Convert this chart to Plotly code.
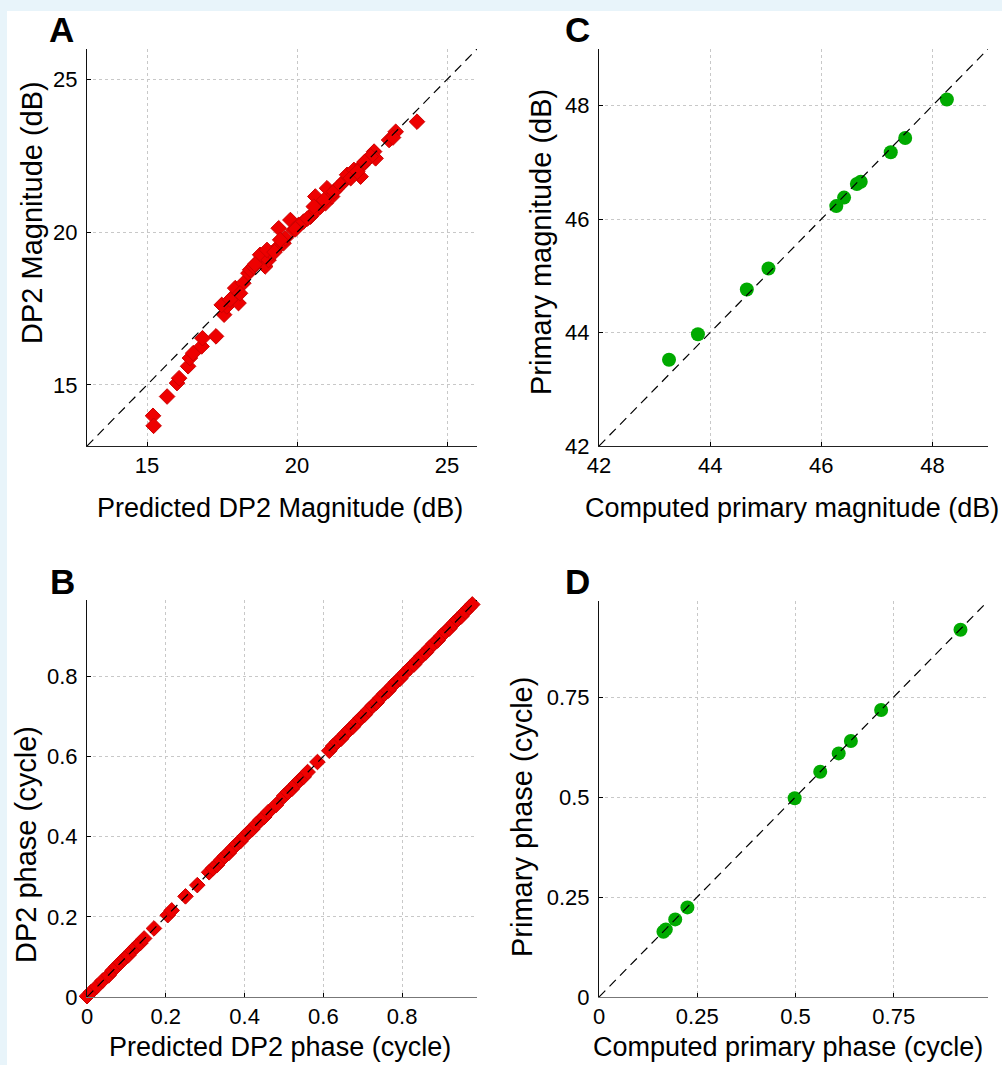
import plotly.graph_objects as go

# ---------------- data ----------------
# Panel A: DP2 magnitude (dB)
a_pred = [15.20, 15.22, 15.67, 16.00, 16.07, 16.37, 16.43, 16.54, 16.82, 16.85,
          17.30, 17.57, 17.66, 17.49, 18.05, 17.88, 17.94, 18.21, 18.38, 18.44,
          18.66, 18.77, 18.94, 19.05, 19.16, 19.39, 19.33, 19.55, 19.61, 19.78,
          19.89, 20.06, 20.22, 20.45, 20.61, 20.61, 20.78, 20.95, 21.00, 21.17,
          21.34, 21.56, 21.67, 21.90, 22.12, 22.18, 22.34, 22.57, 22.62, 23.07,
          23.29, 23.20, 24.00, 19.00, 18.55, 19.44, 20.56, 21.23, 21.79, 22.01,
          22.46, 18.10, 17.77, 18.60, 19.25, 19.95, 20.35, 20.90, 21.45, 22.25]
a_meas = [13.99, 13.66, 14.62, 15.06, 15.22, 15.61, 15.88, 16.04, 16.26, 16.53,
          16.59, 17.30, 17.57, 17.62, 17.68, 17.90, 18.17, 18.33, 18.66, 18.77,
          18.99, 19.26, 18.88, 19.09, 19.31, 20.13, 19.48, 19.64, 19.80, 20.40,
          20.08, 20.24, 20.35, 20.51, 21.17, 20.68, 20.84, 20.95, 21.44, 21.17,
          21.44, 21.66, 21.88, 22.04, 21.82, 22.20, 22.37, 22.64, 22.42, 23.02,
          23.29, 23.10, 23.62, 19.42, 18.88, 19.75, 20.84, 21.33, 21.77, 21.98,
          22.48, 18.00, 17.79, 18.95, 19.35, 20.10, 20.45, 21.05, 21.55, 22.30]

# Panel B: DP2 phase (cycle)
b_pred = [0.000, 0.010, 0.025, 0.040, 0.055, 0.065, 0.075, 0.085, 0.095, 0.105,
          0.115, 0.125, 0.135, 0.145, 0.170, 0.205, 0.215, 0.250, 0.280, 0.310,
          0.320, 0.330, 0.340, 0.350, 0.360, 0.370, 0.380, 0.390, 0.400, 0.410,
          0.420, 0.430, 0.440, 0.450, 0.460, 0.480, 0.500, 0.510, 0.520, 0.530,
          0.540, 0.550, 0.560, 0.585, 0.615, 0.625, 0.635, 0.645, 0.655, 0.665,
          0.675, 0.685, 0.695, 0.705, 0.715, 0.725, 0.735, 0.745, 0.755, 0.765,
          0.775, 0.785, 0.795, 0.805, 0.820, 0.830, 0.840, 0.850, 0.860, 0.870,
          0.880, 0.890, 0.900, 0.910, 0.920, 0.930, 0.940, 0.950, 0.960, 0.970,
          0.978]
b_meas = [0.002, 0.012, 0.026, 0.041, 0.054, 0.066, 0.076, 0.086, 0.096, 0.104,
          0.116, 0.126, 0.134, 0.146, 0.171, 0.204, 0.216, 0.251, 0.279, 0.311,
          0.321, 0.329, 0.341, 0.351, 0.359, 0.371, 0.381, 0.389, 0.401, 0.411,
          0.419, 0.431, 0.441, 0.449, 0.461, 0.479, 0.501, 0.511, 0.519, 0.531,
          0.541, 0.549, 0.561, 0.586, 0.614, 0.626, 0.636, 0.644, 0.656, 0.666,
          0.674, 0.686, 0.696, 0.704, 0.716, 0.726, 0.734, 0.746, 0.756, 0.764,
          0.776, 0.786, 0.794, 0.806, 0.821, 0.829, 0.841, 0.851, 0.859, 0.871,
          0.881, 0.889, 0.901, 0.911, 0.919, 0.931, 0.941, 0.949, 0.961, 0.971,
          0.979]

# Panel C: primary magnitude (dB)
c_comp = [43.26, 43.78, 44.66, 45.05, 46.27, 46.41, 46.64, 46.71, 47.25, 47.51, 48.26]
c_meas = [43.52, 43.97, 44.76, 45.13, 46.23, 46.38, 46.62, 46.66, 47.18, 47.43, 48.11]

# Panel D: primary phase (cycle)
d_comp = [0.164, 0.170, 0.194, 0.225, 0.498, 0.563, 0.610, 0.641, 0.718, 0.920]
d_meas = [0.163, 0.169, 0.194, 0.224, 0.497, 0.563, 0.609, 0.640, 0.7175, 0.918]

# axis limits and ticks
a_lim = [13, 26]
a_ticks = [15, 20, 25]
b_lim = [0, 0.99]
b_ticks = [0, 0.2, 0.4, 0.6, 0.8]
b_tick_text = ["0", "0.2", "0.4", "0.6", "0.8"]
c_lim = [42, 49]
c_ticks = [42, 44, 46, 48]
d_lim = [0, 0.99]
d_ticks = [0, 0.25, 0.5, 0.75]
d_tick_text = ["0", "0.25", "0.5", "0.75"]

# ---------------- figure ----------------
W, H = 1002, 1065
FONT = "Liberation Sans, Arial, sans-serif"


def fx(px):
    return px / W


def fy(py):
    return 1 - py / H


fig = go.Figure()

RED = "rgb(238,0,0)"
RED_EDGE = "rgb(204,0,0)"
GREEN = "#00aa00"
DASH = "9px,6px"

panels = [
    ("x", "y", a_pred, a_meas, a_lim, "diamond"),
    ("x2", "y2", c_comp, c_meas, c_lim, "circle"),
    ("x3", "y3", b_pred, b_meas, b_lim, "diamond"),
    ("x4", "y4", d_comp, d_meas, d_lim, "circle"),
]

for xr, yr, xs, ys, lim, sym in panels:
    if sym == "diamond":
        marker = dict(symbol="diamond", size=12, color=RED,
                      line=dict(color=RED_EDGE, width=1))
    else:
        marker = dict(symbol="circle", size=14, color=GREEN, line=dict(width=0))
    fig.add_trace(go.Scatter(x=xs, y=ys, mode="markers", marker=marker,
                             xaxis=xr, yaxis=yr, cliponaxis=False,
                             showlegend=False, hoverinfo="x+y"))
    fig.add_trace(go.Scatter(x=lim, y=lim, mode="lines",
                             line=dict(color="black", width=1.2, dash=DASH),
                             xaxis=xr, yaxis=yr, showlegend=False,
                             hoverinfo="skip"))

tickfont = dict(family=FONT, size=22, color="black")


def axis_common(rng, tickvals, ticktext, domain, anchor, linecolor):
    return dict(range=rng, domain=domain, anchor=anchor,
                tickvals=tickvals, ticktext=ticktext,
                showgrid=True, gridcolor="#c8c8c8", griddash="dot", gridwidth=1,
                zeroline=False, showline=True, linecolor=linecolor, linewidth=1,
                ticks="inside", ticklen=4, tickcolor="black", tickwidth=1,
                tickfont=tickfont, mirror=False, fixedrange=True)


a_tt = [str(v) for v in a_ticks]
c_tt = [str(v) for v in c_ticks]

# pixel boxes of the four plot areas
boxA = (87, 477, 49, 446)
boxC = (599, 988, 49, 446)
boxB = (87, 477, 600, 997)
boxD = (599, 988, 601, 997)


def dom(box):
    x0, x1, y0, y1 = box
    return [fx(x0), fx(x1)], [fy(y1), fy(y0)]


dxA, dyA = dom(boxA)
dxC, dyC = dom(boxC)
dxB, dyB = dom(boxB)
dxD, dyD = dom(boxD)

fig.update_layout(
    xaxis=axis_common(a_lim, a_ticks, a_tt, dxA, "y", "#222222"),
    yaxis=axis_common(a_lim, a_ticks, a_tt, dyA, "x", "#111111"),
    xaxis2=axis_common(c_lim, c_ticks, c_tt, dxC, "y2", "#222222"),
    yaxis2=axis_common(c_lim, c_ticks, c_tt, dyC, "x2", "#111111"),
    xaxis3=axis_common(b_lim, b_ticks, b_tick_text, dxB, "y3", "#777777"),
    yaxis3=axis_common(b_lim, b_ticks, b_tick_text, dyB, "x3", "#111111"),
    xaxis4=axis_common(d_lim, d_ticks, d_tick_text, dxD, "y4", "#777777"),
    yaxis4=axis_common(d_lim, d_ticks, d_tick_text, dyD, "x4", "#111111"),
)
for ax in ["yaxis", "yaxis2", "yaxis3", "yaxis4"]:
    fig.layout[ax].ticklabelstandoff = 4

annotations = []
for letter, cx, cy in [("A", 61, 30), ("B", 62, 581), ("C", 577, 30), ("D", 577, 581)]:
    annotations.append(dict(text="<b>%s</b>" % letter, x=fx(cx), y=fy(cy),
                            xref="paper", yref="paper", xanchor="center",
                            yanchor="middle", showarrow=False, borderpad=0,
                            font=dict(family=FONT, size=35, color="black")))
for txt, cx, cy in [("Predicted DP2 Magnitude (dB)", 280, 508),
                    ("Computed primary magnitude (dB)", 792, 508),
                    ("Predicted DP2 phase (cycle)", 280, 1047),
                    ("Computed primary phase (cycle)", 788, 1047)]:
    annotations.append(dict(text=txt, x=fx(cx), y=fy(cy), xref="paper",
                            yref="paper", xanchor="center", yanchor="middle",
                            showarrow=False, borderpad=0,
                            font=dict(family=FONT, size=27, color="black")))
for txt, cx, cy in [("DP2 Magnitude (dB)", 32, 213),
                    ("Primary magnitude (dB)", 541, 242),
                    ("DP2 phase (cycle)", 26, 845),
                    ("Primary phase (cycle)", 522, 817)]:
    annotations.append(dict(text=txt, x=fx(cx), y=fy(cy), xref="paper",
                            yref="paper", xanchor="center", yanchor="middle",
                            showarrow=False, textangle=-90, borderpad=0,
                            font=dict(family=FONT, size=29, color="black")))

shapes = [dict(type="rect", xref="paper", yref="paper",
               x0=fx(7), x1=1.0, y0=0.0, y1=fy(11),
               fillcolor="white", line=dict(width=0), layer="below")]

fig.update_layout(
    width=W, height=H,
    margin=dict(l=0, r=0, t=0, b=0, autoexpand=False),
    paper_bgcolor="#e8f4fa",
    plot_bgcolor="rgba(0,0,0,0)",
    font=dict(family=FONT, color="black"),
    annotations=annotations,
    shapes=shapes,
    showlegend=False,
)

fig.write_html(
    "out.html",
    config={"displayModeBar": False},
    post_script="document.body.style.margin='0';document.body.style.padding='0';"
                "document.body.style.overflow='hidden';",
)
